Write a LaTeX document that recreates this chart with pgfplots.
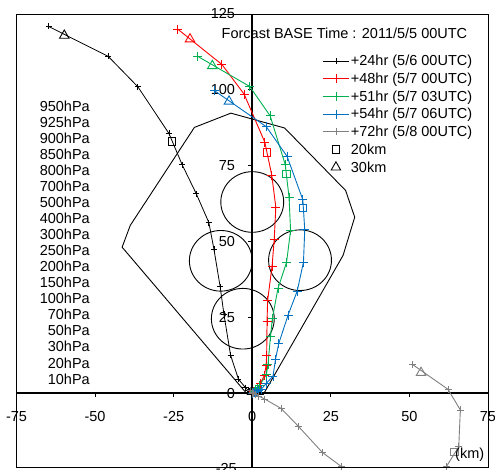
\documentclass[border=0pt]{standalone}
\usepackage{fontspec}
\setmainfont{Liberation Sans}
\usepackage{pgfplots}
\pgfplotsset{compat=1.18}
\definecolor{cred}{RGB}{255,0,0}
\definecolor{cgreen}{RGB}{0,176,80}
\definecolor{cblue}{RGB}{0,112,192}
\definecolor{cgray}{RGB}{128,128,128}
\newcommand{\fs}{\fontsize{14.5bp}{17bp}\selectfont}
\newcommand{\lstrut}{\rule[-4bp]{0pt}{15bp}}
\begin{document}
\begin{tikzpicture}
\begin{axis}[name=ax, at={(16.5bp,3bp)}, anchor=south west,
  scale only axis, width=471.5bp, height=453bp,
  xmin=-75, xmax=75, ymin=-24.4, ymax=125,
  axis lines=middle, axis line style={line width=1.8bp,-},
  hide obscured x ticks=false, hide obscured y ticks=false,
  xtick={-75,-50,-25,0,25,50,75}, xticklabels={-75,-50,-25,0,25,50,75},
  ytick={0,25,50,75,100,125}, yticklabels={0,25,50,75,100,125},
  tick align=outside, major tick length=4bp,
  tick style={line width=0.8bp, black},
  xticklabel style={font=\fs, anchor=north, inner sep=0pt, yshift=-14bp},
  yticklabel style={font=\fs, anchor=east, inner sep=0pt, xshift=-13bp},
  legend style={at={(0.649,0.912)}, anchor=north west, draw=none, fill=none,
    inner sep=0pt, outer sep=0pt, row sep=3.2bp, column sep=0.5bp, font=\fs,
    nodes={inner sep=1bp}},
  legend cell align=left,
  legend image code/.code={\draw[mark repeat=2,mark phase=2,#1] plot coordinates {(0bp,0bp) (13bp,0bp) (26bp,0bp)};},
  every axis plot/.append style={line width=0.9bp},
]
% outline polygon and circles
\addplot[black, line width=0.9bp, forget plot] coordinates {
 (-1.5,-0.5) (-41.4,48.1) (-38.8,55.3) (-18.4,87.6) (-6.8,92.3) (10.3,87.4)
 (29.7,66.8) (32.6,58) (28.9,45.4) (3.5,-0.5) (-1.5,-0.5)};
\draw[black, line width=0.9bp] (axis cs:0,63) ellipse [x radius=10, y radius=10];
\draw[black, line width=0.9bp] (axis cs:-10,43.6) ellipse [x radius=10, y radius=10];
\draw[black, line width=0.9bp] (axis cs:15.2,43.8) ellipse [x radius=10, y radius=10];
\draw[black, line width=0.9bp] (axis cs:-3,24.5) ellipse [x radius=10, y radius=10];

% +24hr
\addplot[black, line width=0.8bp, mark=+, mark size=3bp, mark options={line width=0.8bp}] coordinates {
 (0,0) (-0.2,0.1) (-0.4,0.2) (-0.8,0.5) (-1.3,0.9) (-2.2,1.8) (-4.4,4.6) (-6.9,12.5)
 (-9.0,25.9) (-10.2,35) (-12.2,47.5) (-13.8,56.2) (-17.8,65.7) (-22.3,75.3)
 (-26.5,85.6) (-36.4,101) (-45.8,111) (-64.8,120.9)};
\addlegendentry{\lstrut+24hr (5/6 00UTC)}
% +48hr
\addplot[cred, mark=+, mark size=4.5bp, mark options={line width=0.9bp}] coordinates {
 (0,0) (0.4,0.4) (0.9,0.9) (1.6,1.8) (2.5,3.0) (3.9,5.9) (4.4,9.2) (4.6,12.5)
 (4.7,23.5) (4.9,30.6) (6.3,41.8) (7.0,50.7) (7.5,61.3) (6.2,71.9) (4.0,82.7)
 (-2.6,98.6) (-9.7,108.4) (-23.7,120)};
\addlegendentry{\lstrut+48hr (5/7 00UTC)}
% +51hr
\addplot[cgreen, mark=+, mark size=4.5bp, mark options={line width=0.9bp}] coordinates {
 (0,0) (0.3,0.3) (0.6,0.6) (1.0,1.0) (1.5,1.5) (2.3,2.4) (4.5,6.1) (5.0,9.4)
 (5.8,18.5) (6.4,24.6) (8.2,34.6) (10.9,43) (12.2,53.6) (11.7,64.6) (10.5,75.3)
 (5.7,91.4) (-0.8,101.1) (-17.3,111)};
\addlegendentry{\lstrut+51hr (5/7 03UTC)}
% +54hr
\addplot[cblue, mark=+, mark size=4.5bp, mark options={line width=0.9bp}] coordinates {
 (0,0) (0.4,0.1) (0.8,0.3) (1.3,0.5) (2.0,0.8) (2.9,1.3) (4.5,3.2) (6.6,5.6)
 (7.4,11.1) (8.4,16.2) (11.4,25.7) (14.3,33.6) (16.3,43.2) (16.7,53.9) (16.1,63.7)
 (11.1,78) (4.5,87.8) (-12,99.7)};
\addlegendentry{\lstrut+54hr (5/7 06UTC)}
% +72hr
\addplot[cgray, mark=+, mark size=3.5bp, mark options={line width=0.9bp}] coordinates {
 (0,0) (-0.5,0.8) (0,0.3) (0.5,-0.3) (1.0,-0.5) (2.0,-1.0) (4.0,-2.0) (9.2,-5.1)
 (14.6,-10.9) (22.3,-19.6) (28.3,-24.2) (38,-30) (52,-31) (61.8,-24.2)
 (65.7,-17.7) (66.2,-5.6) (62.3,1.2) (51,9.4)};
\addlegendentry{\lstrut+72hr (5/8 00UTC)}

% 20 km squares and 30 km triangles
\addplot[black, only marks, mark=square, mark size=3.8bp, forget plot] coordinates {(-25.5,82.9)};
\addplot[black, only marks, mark=triangle, mark size=5.5bp, forget plot] coordinates {(-59.8,117.9)};
\addplot[cred, only marks, mark=square, mark size=3.8bp, forget plot] coordinates {(4.7,79.4)};
\addplot[cred, only marks, mark=triangle, mark size=5.5bp, forget plot] coordinates {(-19.8,116.7)};
\addplot[cgreen, only marks, mark=square, mark size=3.8bp, forget plot] coordinates {(10.8,72.3)};
\addplot[cgreen, only marks, mark=triangle, mark size=5.5bp, forget plot] coordinates {(-12.7,107.9)};
\addplot[cblue, only marks, mark=square, mark size=3.8bp, forget plot] coordinates {(16.1,61)};
\addplot[cblue, only marks, mark=triangle, mark size=5.5bp, forget plot] coordinates {(-7.4,96.2)};
\addplot[cgray, only marks, mark=square, mark size=3.8bp, forget plot] coordinates {(64.3,-19.5)};
\addplot[cgray, only marks, mark=triangle, mark size=5.5bp, forget plot] coordinates {(53.7,6.7)};

\addlegendimage{black, only marks, mark=square, mark size=3.8bp, line width=0.9bp}
\addlegendentry{\lstrut20km}
\addlegendimage{black, only marks, mark=triangle, mark size=5.5bp, line width=0.9bp}
\addlegendentry{\lstrut30km}
\end{axis}
\draw[line width=0.8bp] (ax.south west) rectangle (ax.north east);
\node[font=\fs, anchor=base west, inner sep=0pt] at (221.5bp,431bp) {Forcast BASE Time : 2011/5/5 00UTC};
\node[font=\fs, anchor=base west, inner sep=0pt] at (455bp,11.4bp) {(km)};
\node[font=\fs, anchor=east, inner sep=0pt] at (237bp,1.2bp) {-25};
\foreach \t [count=\i from 0] in {950hPa,925hPa,900hPa,850hPa,800hPa,700hPa,500hPa,400hPa,300hPa,250hPa,200hPa,150hPa,100hPa,70hPa,50hPa,30hPa,20hPa,10hPa}
  \node[font=\fs, anchor=base east, inner sep=0pt] at (90bp,{358.3bp-\i*16.02bp}) {\t};
\pgfresetboundingbox
\path[use as bounding box] (0,0) rectangle (495bp,470bp);
\end{tikzpicture}
\end{document}
